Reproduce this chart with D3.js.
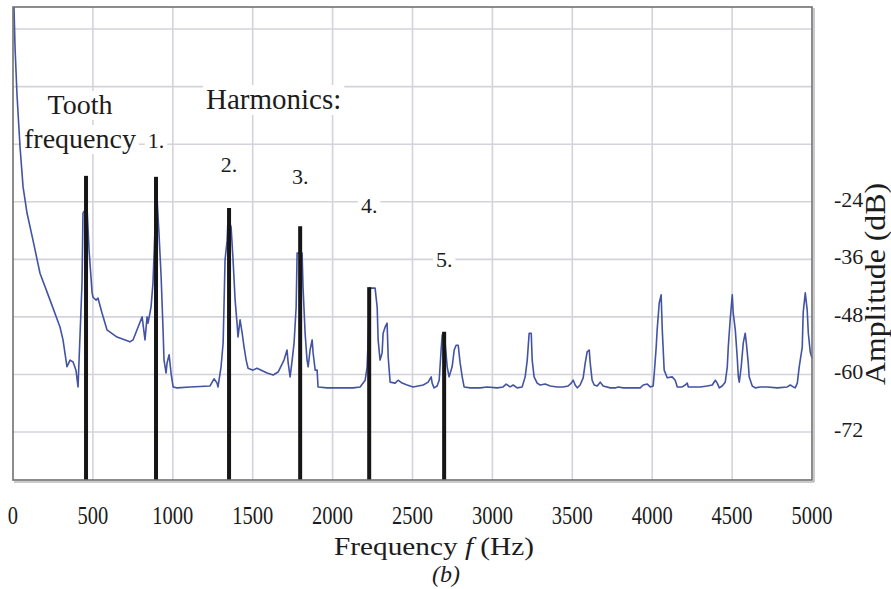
<!DOCTYPE html>
<meta charset="utf-8">

<head>
    <title>Tooth frequency spectrum (b)</title>
</head>

<style>
    body {
        margin: 0;
        background: #fff;
    }

    text {
        font-family: "Liberation Serif", "Times New Roman", serif;
        fill: #1c1c1c;
    }
</style>

<script src="https://d3js.org/d3.v7.min.js"></script>

<body>
    <div id="chart"></div>
</body>

<script>

    // spectrum trace: [frequency Hz, amplitude dB]
    var spectrum = [
        [6, 16.6], [13, 8.0], [25, -1.7], [44, -12.6], [63, -20.9], [88, -26.4], [125, -32.0], [169, -38.9],
        [232, -44.5], [294, -50.1], [313, -52.8], [338, -58.4], [357, -57.0], [376, -57.4], [394, -59.1],
        [407, -62.6], [419, -52.2], [432, -40.9], [438, -26.4], [463, -25.1], [476, -34.1], [495, -43.0],
        [501, -43.9], [520, -44.5], [532, -44.1], [557, -47.2], [588, -50.7], [651, -52.2], [732, -53.2],
        [751, -52.8], [783, -50.1], [808, -48.0], [826, -52.8], [839, -48.0], [845, -49.3], [864, -45.9],
        [876, -40.9], [889, -29.3], [901, -23.0], [914, -30.9], [927, -39.7], [939, -50.7], [945, -57.0],
        [958, -59.7], [964, -57.6], [977, -55.9], [989, -59.7], [1002, -62.6], [1027, -62.8], [1108, -62.6],
        [1233, -62.4], [1258, -60.9], [1277, -61.8], [1283, -62.6], [1302, -58.4], [1315, -53.4], [1321, -44.9],
        [1327, -36.1], [1340, -32.0], [1346, -27.2], [1365, -29.3], [1377, -36.1], [1390, -44.5], [1402, -49.3],
        [1408, -52.2], [1421, -48.6], [1434, -51.4], [1446, -54.3], [1459, -57.0], [1471, -58.7], [1502, -59.1],
        [1527, -58.7], [1590, -59.7], [1628, -60.1], [1659, -59.5], [1696, -57.0], [1715, -54.9], [1722, -57.6],
        [1734, -60.5], [1747, -57.0], [1759, -53.4], [1772, -45.9], [1778, -34.7], [1809, -34.7], [1815, -41.8],
        [1828, -51.4], [1840, -57.0], [1847, -58.4], [1859, -54.9], [1872, -52.8], [1878, -55.5], [1891, -59.1],
        [1903, -59.1], [1909, -62.6], [1966, -62.8], [2128, -62.8], [2172, -62.6], [2204, -61.2], [2216, -58.4],
        [2235, -42.0], [2266, -42.0], [2279, -46.0], [2285, -52.8], [2297, -57.0], [2310, -55.5], [2316, -51.4],
        [2329, -50.1], [2341, -49.3], [2348, -56.4], [2360, -61.6], [2391, -61.8], [2410, -61.2], [2435, -61.8],
        [2466, -62.2], [2504, -62.6], [2567, -62.2], [2598, -61.6], [2617, -60.5], [2623, -61.8], [2635, -62.8],
        [2654, -62.4], [2667, -61.2], [2679, -54.9], [2686, -51.8], [2692, -51.4], [2704, -53.4], [2717, -58.4],
        [2729, -60.5], [2748, -58.4], [2761, -54.9], [2773, -53.9], [2786, -53.9], [2798, -57.6], [2811, -60.5],
        [2823, -62.6], [2861, -62.8], [2923, -62.8], [2967, -62.6], [3030, -62.8], [3067, -62.6], [3086, -62.0],
        [3111, -62.6], [3130, -62.2], [3155, -62.8], [3186, -62.6], [3205, -60.5], [3218, -57.0], [3230, -51.4],
        [3243, -51.4], [3249, -57.0], [3261, -60.5], [3280, -61.8], [3299, -62.2], [3330, -62.0], [3362, -62.4],
        [3405, -62.6], [3443, -62.6], [3474, -62.4], [3493, -61.8], [3506, -61.2], [3518, -62.2], [3531, -62.8],
        [3549, -62.2], [3568, -60.7], [3581, -57.6], [3593, -55.3], [3606, -54.9], [3612, -57.6], [3624, -61.2],
        [3637, -62.2], [3656, -62.4], [3675, -61.6], [3693, -62.4], [3737, -62.8], [3768, -62.8], [3787, -62.6],
        [3819, -62.8], [3925, -62.8], [3944, -62.2], [3969, -62.0], [3988, -62.6], [4006, -62.4], [4013, -59.7],
        [4025, -54.3], [4031, -50.7], [4044, -45.1], [4056, -43.4], [4063, -50.7], [4075, -59.1], [4094, -60.7],
        [4125, -60.5], [4144, -61.2], [4157, -62.6], [4188, -62.6], [4207, -62.2], [4219, -61.8], [4226, -62.6],
        [4257, -62.6], [4301, -62.6], [4344, -62.4], [4376, -62.2], [4395, -61.2], [4407, -61.8], [4420, -62.8],
        [4438, -62.4], [4457, -61.6], [4470, -58.4], [4476, -54.3], [4488, -48.6], [4501, -43.4], [4507, -47.2],
        [4520, -50.7], [4532, -56.4], [4539, -60.5], [4545, -61.6], [4557, -58.4], [4570, -53.4], [4582, -51.4],
        [4589, -53.4], [4601, -57.6], [4607, -60.5], [4626, -62.4], [4645, -62.8], [4676, -62.6], [4720, -62.6],
        [4783, -62.8], [4845, -62.6], [4864, -62.2], [4883, -62.6], [4895, -62.8], [4908, -61.8], [4920, -58.4],
        [4939, -54.3], [4945, -47.0], [4958, -43.0], [4970, -46.6], [4977, -51.4], [4989, -55.3], [5000, -56.6]
    ];

    // tooth frequency and its harmonics (black sticks)
    var harmonicHz = [457, 895, 1352, 1797, 2229, 2698];
    var harmonicDb = [-18.6, -18.8, -25.3, -29.1, -41.8, -51.1];
    var harmonicNames = ["", "1.", "2.", "3.", "4.", "5."];

    // ticks
    var xTicks = [0, 500, 1000, 1500, 2000, 2500, 3000, 3500, 4000, 4500, 5000];
    var yTicks = [-24, -36, -48, -60, -72];
    var yGrid = [12, 0, -12, -24, -36, -48, -60, -72];

    // baseline of each harmonic number (layout only)
    var harmonicLabelY = [0, 148, 172, 184, 213, 267];

    // set the dimensions and margins of the graph
    var margin = { top: 7, right: 79, bottom: 109, left: 13 },
        width = 891 - margin.left - margin.right,
        height = 589 - margin.top - margin.bottom;

    var root = d3.select("#chart")
        .append("svg")
        .attr("width", 891)
        .attr("height", 589);

    var svg = root.append("g")
        .attr("transform", "translate(" + margin.left + "," + margin.top + ")");

    var x = d3.scaleLinear()
        .domain([0, 5000])
        .range([0, width]);

    var y = d3.scaleLinear()
        .domain([-82, 16.6])
        .range([height, 0]);

    // grid
    svg.append("g")
        .selectAll("line.vgrid")
        .data(xTicks.slice(1, -1))
        .enter().append("line")
        .attr("x1", function (d) { return x(d); })
        .attr("x2", function (d) { return x(d); })
        .attr("y1", 0)
        .attr("y2", height)
        .attr("stroke", "#d3d3db")
        .attr("stroke-width", 1.6);

    svg.append("g")
        .selectAll("line.hgrid")
        .data(yGrid)
        .enter().append("line")
        .attr("x1", 0)
        .attr("x2", width)
        .attr("y1", function (d) { return y(d); })
        .attr("y2", function (d) { return y(d); })
        .attr("stroke", "#d3d3db")
        .attr("stroke-width", 1.6);

    // white boxed labels
    function boxedText(g, px, py, str, size, anchor) {
        var grp = g.append("g");
        var rect = grp.append("rect").attr("fill", "#fff");
        var t = grp.append("text")
            .attr("x", px)
            .attr("y", py)
            .attr("text-anchor", anchor)
            .style("font-size", size + "px")
            .text(str);
        var b = t.node().getBBox();
        rect.attr("x", b.x - 3).attr("y", b.y + 2).attr("width", b.width + 6).attr("height", b.height - 2);
        return t;
    }

    boxedText(svg, 67, 107, "Tooth", 28, "middle");
    boxedText(svg, 67, 141, "frequency", 28, "middle");
    boxedText(svg, 193, 102, "Harmonics:", 29, "start");

    harmonicHz.forEach(function (h, i) {
        if (!harmonicNames[i]) return;
        boxedText(svg, x(h), harmonicLabelY[i] - margin.top, harmonicNames[i], 22, "middle");
    });

    // spectrum line
    svg.append("path")
        .datum(spectrum)
        .attr("fill", "none")
        .attr("stroke", "#4253a3")
        .attr("stroke-width", 1.6)
        .attr("stroke-linejoin", "round")
        .attr("d", d3.line()
            .x(function (d) { return x(d[0]); })
            .y(function (d) { return Math.max(0, y(d[1])); })
        );

    // harmonic sticks
    svg.append("g")
        .selectAll("rect.stick")
        .data(harmonicHz)
        .enter().append("rect")
        .attr("x", function (d) { return x(d) - 2; })
        .attr("y", function (d, i) { return y(harmonicDb[i]); })
        .attr("width", 4)
        .attr("height", function (d, i) { return height - y(harmonicDb[i]); })
        .attr("fill", "#161616");

    // frame
    svg.append("line")
        .attr("x1", 1).attr("x2", width + 2)
        .attr("y1", height + 2).attr("y2", height + 2)
        .attr("stroke", "#b8b8b8").attr("stroke-width", 1.5);
    svg.append("line")
        .attr("x1", width + 2).attr("x2", width + 2)
        .attr("y1", 1).attr("y2", height + 2)
        .attr("stroke", "#b8b8b8").attr("stroke-width", 1.5);
    svg.append("rect")
        .attr("x", 0).attr("y", 0)
        .attr("width", width).attr("height", height)
        .attr("fill", "none")
        .attr("stroke", "#707070")
        .attr("stroke-width", 1.6);

    // x tick labels, narrow and tall like the original
    svg.append("g")
        .selectAll("text.xt")
        .data(xTicks)
        .enter().append("text")
        .attr("transform", function (d) {
            return "translate(" + x(d) + "," + (524 - margin.top) + ") scale(0.82,1)";
        })
        .attr("text-anchor", "middle")
        .style("font-size", "25px")
        .text(function (d) { return d; });

    // y tick labels on the right
    svg.append("g")
        .selectAll("text.yt")
        .data(yTicks)
        .enter().append("text")
        .attr("x", 821)
        .attr("y", function (d) { return y(d) + 5; })
        .style("font-size", "22px")
        .text(function (d) { return d; });

    // axis titles
    var xt = root.append("text")
        .attr("x", 434)
        .attr("y", 555)
        .attr("text-anchor", "middle")
        .attr("textLength", 200)
        .attr("lengthAdjust", "spacingAndGlyphs")
        .style("font-size", "26px");
    xt.append("tspan").text("Frequency ");
    xt.append("tspan").style("font-style", "italic").text("f");
    xt.append("tspan").text(" (Hz)");

    root.append("text")
        .attr("transform", "translate(885,284) rotate(-90)")
        .attr("text-anchor", "middle")
        .attr("textLength", 202)
        .attr("lengthAdjust", "spacingAndGlyphs")
        .style("font-size", "30px")
        .text("Amplitude (dB)");

    root.append("text")
        .attr("x", 446)
        .attr("y", 582)
        .attr("text-anchor", "middle")
        .style("font-size", "24px")
        .style("font-style", "italic")
        .text("(b)");

</script>
